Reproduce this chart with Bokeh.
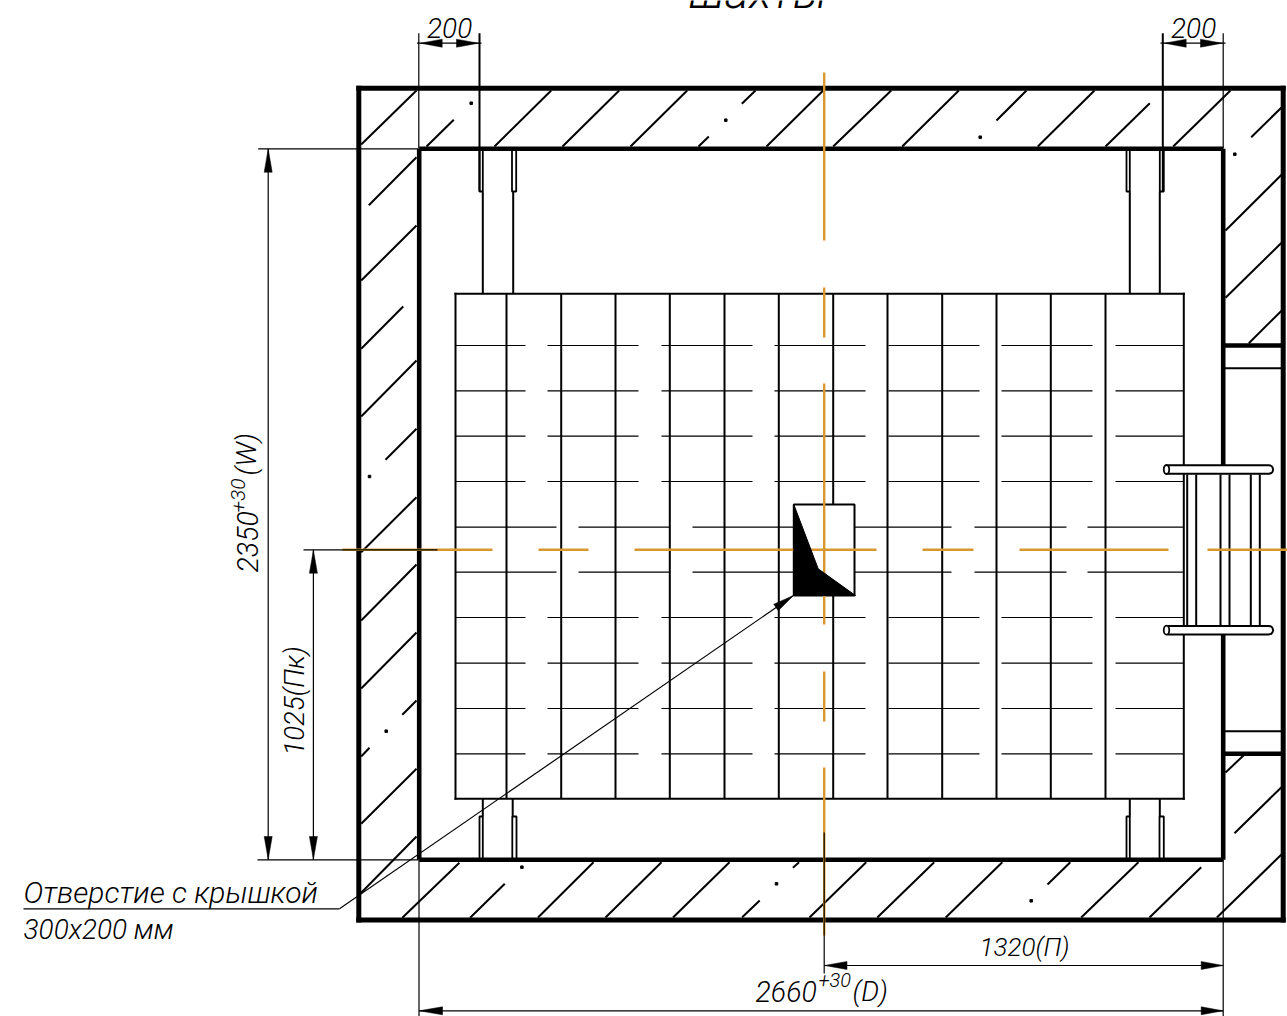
from bokeh.plotting import figure
from bokeh.models import Range1d
from bokeh.core.properties import value
from bokeh.embed import file_html
from bokeh.resources import INLINE
import math

INK = "#000000"
ORANGE = "#D9982F"
FONT = "Roboto Light, Roboto"

# walls (x0,y0,x1,y1)
OUTER_WALL = [(358.3, 87.7, 1282.7, 87.7), (358.3, 87.7, 358.3, 919.5), (358.3, 919.5, 1282.7, 919.5), (1282.7, 87.7, 1282.7, 919.5)]
INNER_WALL = [(418.7, 148.3, 1222.7, 148.3), (418.7, 148.3, 418.7, 859.3), (418.7, 859.3, 1222.7, 859.3),
              (1222.7, 148.3, 1222.7, 465), (1222.7, 633, 1222.7, 859.3),
              (1222.7, 345, 1283, 345), (1222.7, 753.3, 1283, 753.3)]
DOOR_THIN = [(1222.7, 367.7, 1283, 367.7), (1222.7, 730.7, 1283, 730.7)]

HATCH = [
    (360.7, 144, 416, 90), (426, 146, 453.3, 119.3), (494, 146, 550.7, 90), (562, 146, 618.7, 90), (630, 146, 686.7, 90),
    (698, 146, 708.3, 136), (741.3, 103.3, 755, 90), (766, 146, 822.7, 90), (832.7, 146, 890.7, 90), (901.7, 146, 958.3, 90),
    (996, 120, 1026, 90), (1037.3, 146, 1094, 90), (1105, 146, 1149.3, 102.7), (1172.7, 146, 1230, 90),
    (1250.7, 136.7, 1281.3, 106.7), (1225, 230, 1281.3, 174), (1225, 297.3, 1281.3, 242), (1248.3, 342.7, 1281.3, 310),
    (1225, 772, 1243, 755), (1234, 832.7, 1281, 786.7), (1216.4, 917, 1281, 854),
    (1149, 917, 1200.7, 866.7), (1080.7, 917, 1137.9, 861.7), (1047, 884, 1069.8, 861.7), (945.2, 917, 1001.8, 861.7),
    (876.8, 917, 933.7, 861.7), (809, 917, 865.7, 861.7), (792.4, 867.3, 798.6, 861.7), (741.7, 916.7, 759.2, 900),
    (672.5, 917, 729, 861.7), (605, 917, 661, 861.7), (537.5, 917, 593, 861.7), (469.6, 917.3, 504.3, 883.3), (401.8, 917.3, 458.9, 862.3),
    (368.3, 204.7, 416, 156.7), (360.7, 280, 416, 225), (360.7, 348.3, 402.7, 306), (360.7, 416, 416, 360), (385, 459.3, 416, 428.3),
    (360.7, 551.7, 416, 496.7), (360.7, 620, 416, 564), (360.7, 688, 416, 632), (360.7, 756, 369, 747.3), (401.8, 714.3, 416, 700),
    (360.7, 823.3, 416, 768.3), (360.7, 892.3, 416, 836),
]
SPECKS_X = [470.7, 725.3, 979.7, 1234.3, 369, 385.7, 521.4, 776, 1030.7]
SPECKS_Y = [102.7, 119.7, 136.7, 153.7, 476, 730.7, 866.7, 883.3, 900.3]

# car
CAR = (455, 293.3, 1183.3, 798.3)
FLOOR_X = [506, 560.7, 615, 669.3, 724, 778.3, 832.7, 887, 941.7, 996, 1050.3, 1105]
ROW_Y = [345, 390.3, 435.7, 481, 617, 662.7, 708, 753.3]
ROW_SPANS = [(455, 525), (547, 638), (661, 752), (774, 865), (888, 979), (1001, 1092), (1115, 1183)]
MID_ROW_Y = [526.7, 571.7]
MID_ROW_SPANS = [(455, 556), (578, 669), (692, 793), (854, 951), (974, 1066), (1087, 1183)]

# guide rails
RAILS = [(482.3, 191, 482.3, 293), (512.7, 191, 512.7, 293), (1129.3, 191, 1129.3, 293), (1159.3, 191, 1159.3, 293),
         (482.3, 798, 482.3, 816), (512.2, 798, 512.2, 816), (1129.3, 798, 1129.3, 816), (1159.3, 798, 1159.3, 816)]
BRACKETS = [
    [(479, 150), (479, 191), (482.3, 191), (482.3, 150)], [(511.5, 150), (511.5, 191), (515.7, 191), (515.7, 150)],
    [(1126, 150), (1126, 191), (1129.3, 191), (1129.3, 150)], [(1159.3, 150), (1159.3, 191), (1163.3, 191), (1163.3, 150)],
    [(479, 858), (479, 816), (482.3, 816), (482.3, 858)], [(511.8, 858), (511.8, 816), (516, 816), (516, 858)],
    [(1126, 858), (1126, 816), (1129.3, 816), (1129.3, 858)], [(1159, 858), (1159, 816), (1163.3, 816), (1163.3, 858)],
]

# door frame and handrails
DOOR_POST_X = [1186.7, 1195.7, 1220, 1229, 1250.3, 1259.3]
DOOR_POST_SPAN = (474, 625)
HANDRAIL_Y = [469, 629.7]
HANDRAIL_SPAN = (1168, 1268.3)
HANDRAIL_END_X = 1166

# hatch opening
OPENING = (793.3, 504, 854, 595)
OPENING_SHADE_X = [793.3, 817.7, 855, 793.3]
OPENING_SHADE_Y = [504, 568.3, 595, 595]

# centre lines
CENTER_H_Y = 549.3
CENTER_H = [(342, 492), (538, 588), (634, 876), (922, 973), (1019, 1168), (1207, 1287)]
CENTER_V_X = 823.7
CENTER_V = [(72, 240), (287, 337), (383, 624), (671, 721), (767, 935)]

# dimensions (thin lines)
DIM_THIN = [
    (418.3, 32.7, 418.3, 148), (1222.7, 32.7, 1222.7, 148), (416.5, 42.7, 481, 42.7), (1160, 42.7, 1225, 42.7),
    (257.7, 148.3, 418, 148.3), (257, 859.3, 418, 859.3), (303, 549.3, 437, 549.3),
    (267.7, 148.3, 267.7, 859.3), (312.9, 549.3, 312.9, 859.3),
    (823.7, 832, 823.7, 973), (823.7, 965, 1222.7, 965), (418.5, 1010.3, 1222.7, 1010.3),
    (1222.7, 859, 1222.7, 1016), (418.5, 859, 418.5, 1016),
    (23, 908.3, 339, 908.3), (339, 908.3, 793, 595),
]
DIM_MEDIUM = [(479, 32.7, 479, 191), (1162.3, 32.7, 1162.3, 191)]
# arrow tip x, tip y, base x, base y
ARROWS = [
    (420, 42.7, 441.7, 42.7), (478, 42.7, 456, 42.7), (1164, 42.7, 1185.7, 42.7), (1221.5, 42.7, 1200, 42.7),
    (267.7, 148.5, 267.7, 171.7), (267.7, 859, 267.7, 836), (312.9, 549.5, 312.9, 572.7), (312.9, 859, 312.9, 836),
    (824, 965, 846.5, 965), (1222.5, 965, 1200.7, 965), (418.7, 1010.3, 442, 1010.3), (1222.5, 1010.3, 1200.7, 1010.3),
    (793, 595, 775.5, 607),
]

# texts: text, baseline x, baseline y, size px, rotation (deg)
LABELS = [
    ("шахты", 688, 9, 47, 0),
    ("200", 426.5, 38.5, 28, 0),
    ("200", 1170.5, 38.5, 28, 0),
    ("2350", 258, 572, 28.5, 90),
    ("+30", 245, 512, 21, 90),
    ("(W)", 257, 475, 28, 90),
    ("1025(Пк)", 304, 755, 27.5, 90),
    ("Отверстие с крышкой", 23, 903, 30, 0),
    ("300x200 мм", 23, 940, 28, 0),
    ("1320(П)", 979, 956.7, 26, 0),
    ("2660", 755, 1001.7, 28.5, 0),
    ("+30", 818, 987, 20, 0),
    ("(D)", 852, 1001.7, 28, 0),
]
BASELINE_SHIFT = 0.38


def segs(p, items, color, width, cap="butt"):
    p.segment(x0=[s[0] for s in items], y0=[s[1] for s in items], x1=[s[2] for s in items], y1=[s[3] for s in items],
              line_color=color, line_width=width, line_cap=cap)


p = figure(width=1287, height=1016, x_range=Range1d(0, 1287), y_range=Range1d(1016, 0),
           output_backend="svg", toolbar_location=None, min_border=0, outline_line_color=None,
           background_fill_color="white", border_fill_color="white")
p.axis.visible = False
p.grid.visible = False

segs(p, HATCH, INK, 2)
p.scatter(SPECKS_X, SPECKS_Y, size=2.5, marker="square", color=INK)
segs(p, DOOR_THIN, INK, 2)

rows = [(a, y, b, y) for y in ROW_Y for a, b in ROW_SPANS] + [(a, y, b, y) for y in MID_ROW_Y for a, b in MID_ROW_SPANS]
segs(p, rows, INK, 1.2)
segs(p, [(x, CAR[1], x, CAR[3]) for x in FLOOR_X], INK, 2)
segs(p, [(CAR[0], CAR[1], CAR[2], CAR[1]), (CAR[2], CAR[1], CAR[2], CAR[3]), (CAR[2], CAR[3], CAR[0], CAR[3]), (CAR[0], CAR[3], CAR[0], CAR[1])], INK, 2, "square")
segs(p, RAILS, INK, 2)
p.multi_line([[q[0] for q in b] for b in BRACKETS], [[q[1] for q in b] for b in BRACKETS], line_color=INK, line_width=1.8)

segs(p, [(x, DOOR_POST_SPAN[0], x, DOOR_POST_SPAN[1]) for x in DOOR_POST_X], INK, 2)

segs(p, OUTER_WALL, INK, 5, "square")
segs(p, INNER_WALL, INK, 4.6, "butt")

p.quad(left=[OPENING[0]], right=[OPENING[2]], top=[OPENING[1]], bottom=[OPENING[3]], fill_color="white", line_color=INK, line_width=2)

segs(p, [(a, CENTER_H_Y, b, CENTER_H_Y) for a, b in CENTER_H], ORANGE, 2.4)
segs(p, [(CENTER_V_X, a, CENTER_V_X, b) for a, b in CENTER_V], ORANGE, 2.4)

p.patch(OPENING_SHADE_X, OPENING_SHADE_Y, fill_color=INK, line_color=INK, line_width=1)

for y in HANDRAIL_Y:
    p.line(list(HANDRAIL_SPAN), [y, y], line_color=INK, line_width=10.5, line_cap="round")
    p.line(list(HANDRAIL_SPAN), [y, y], line_color="white", line_width=6.5, line_cap="round")
    p.ellipse([HANDRAIL_END_X], [y], width=5.5, height=9, fill_color="white", line_color=INK, line_width=1.8)

segs(p, DIM_THIN, INK, 1.2)
segs(p, DIM_MEDIUM, INK, 2)
xs, ys = [], []
for tx, ty, bx, by in ARROWS:
    L = math.hypot(bx - tx, by - ty)
    nx, ny = -(by - ty) / L * 4, (bx - tx) / L * 4
    xs.append([tx, bx + nx, bx - nx])
    ys.append([ty, by + ny, by - ny])
p.patches(xs, ys, fill_color=INK, line_color=INK, line_width=0.5)

for t, x, y, s, r in LABELS:
    dx = -BASELINE_SHIFT * s if r == 90 else 0
    dy = -BASELINE_SHIFT * s if r == 0 else 0
    p.text([x + dx], [y + dy], text=[t], angle=[math.radians(r)], text_font=value(FONT), text_font_style="italic",
           text_font_size=f"{s}px", text_color=INK, text_baseline="alphabetic", text_align="left")

open("out.html", "w").write(file_html(p, INLINE))
